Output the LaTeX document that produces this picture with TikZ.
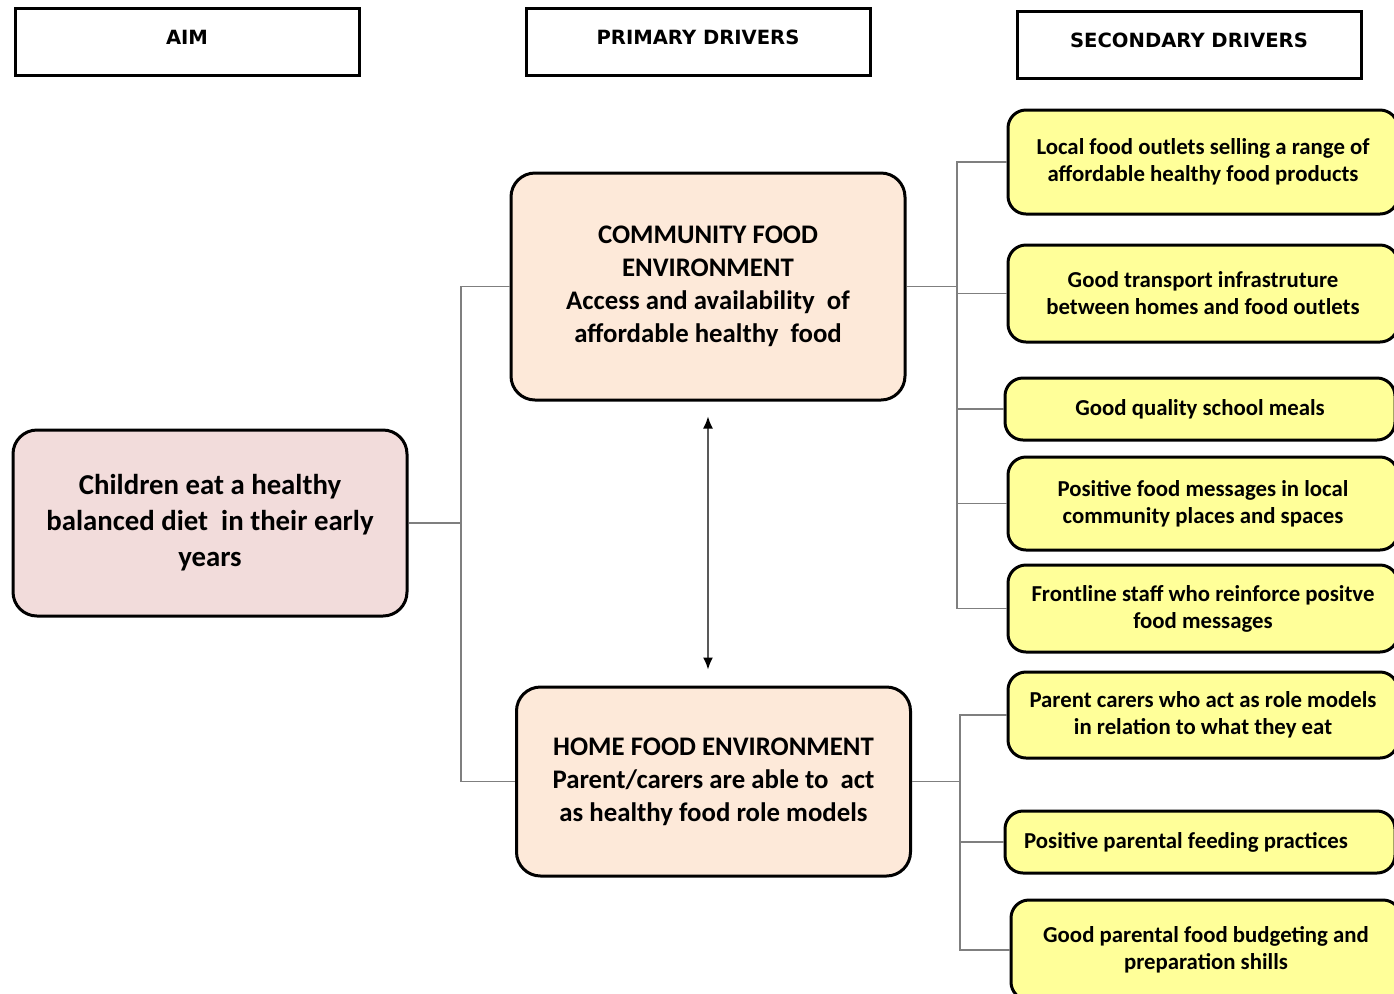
\documentclass[tikz,border=0pt]{standalone}
\usepackage{fontspec}
\setmainfont{Carlito}
\newfontfamily\headfont{DejaVu Sans}
\usetikzlibrary{arrows.meta}
\definecolor{aimpink}{HTML}{F2DCDB}
\definecolor{primpeach}{HTML}{FDE9D9}
\definecolor{secyellow}{HTML}{FFFF99}
\definecolor{linkgray}{HTML}{7F7F7F}
\begin{document}
\begin{tikzpicture}[x=0.5pt, y=-0.5pt,
   header/.style={draw, line width=1.5pt, minimum width=172pt, inner sep=0pt,
       text height=18pt, text depth=15.5pt, font=\headfont\bfseries\fontsize{9.8}{11}\selectfont},
   box/.style={draw, line width=1.5pt, rounded corners=12pt, inner sep=0pt, align=center},
   aimbox/.style={box, fill=aimpink, minimum width=197pt, minimum height=93pt,
       font=\bfseries\fontsize{14.4}{18}\selectfont},
   primbox/.style={box, fill=primpeach, minimum width=197pt,
       font=\bfseries\fontsize{13.4}{16.5}\selectfont},
   secbox/.style={box, rounded corners=9pt, fill=secyellow, minimum width=195pt,
       font=\bfseries\fontsize{11.4}{13.5}\selectfont},
   link/.style={draw=linkgray, line width=0.75pt},
   twoway/.style={link, draw=black!65, {Latex[length=6pt,width=5pt,color=black]}-{Latex[length=6pt,width=5pt,color=black]},
       shorten <=7.5pt, shorten >=8pt}]

\useasboundingbox (0,0) rectangle (1394,993);

\node[header] (hAim)  at (187,41.5) {AIM};
\node[header] (hPrim) at (698,41.5) {PRIMARY DRIVERS};
\node[header] (hSec)  at (1189,45)  {SECONDARY DRIVERS};

\node[aimbox] (aim) at (210,523) {Children eat a healthy\\balanced diet \ in their early\\years};

\node[primbox, minimum height=113.5pt] (comm) at (708,286.5)
    {COMMUNITY FOOD\\ENVIRONMENT\\Access and availability \ of\\affordable healthy \ food};
\node[primbox, minimum height=94.5pt] (home) at (713.5,781.5)
    {HOME FOOD ENVIRONMENT\\Parent/carers are able to \ act\\as healthy food role models};

\node[secbox, minimum height=52pt]   (s1) at (1203,162)   {Local food outlets selling a range of\\affordable healthy food products};
\node[secbox, minimum height=48.5pt] (s2) at (1203,293.5) {Good transport infrastruture\\between homes and food outlets};
\node[secbox, minimum height=31pt]   (s3) at (1200,409)   {Good quality school meals};
\node[secbox, minimum height=46.5pt] (s4) at (1203,503.5) {Positive food messages in local\\community places and spaces};
\node[secbox, minimum height=43.5pt] (s5) at (1203,608.5) {Frontline staff who reinforce positve\\food messages};
\node[secbox, minimum height=43pt]   (s6) at (1203,715)   {Parent carers who act as role models\\in relation to what they eat};
\node[secbox, minimum height=31pt, align=left] (s7) at (1200,842)
    {\hspace*{-14pt}Positive parental feeding practices};
\node[secbox, minimum height=50pt]   (s8) at (1206,950)   {Good parental food budgeting and\\preparation shills};

\coordinate (jA) at (461,523);
\coordinate (jB) at (957,286.5);
\coordinate (jC) at (960,781.5);

\draw[link] (aim.east) -- (jA);
\draw[link] (jA) |- (comm.west);
\draw[link] (jA) |- (home.west);

\draw[link] (comm.east) -- (jB);
\foreach \s in {s1,s2,s3,s4,s5}
    \draw[link] (jB) |- (\s.west);

\draw[link] (home.east) -- (jC);
\foreach \s in {s6,s7,s8}
    \draw[link] (jC) |- (\s.west);

\draw[twoway] (comm.south) -- (comm.south |- home.north);

\end{tikzpicture}
\end{document}
